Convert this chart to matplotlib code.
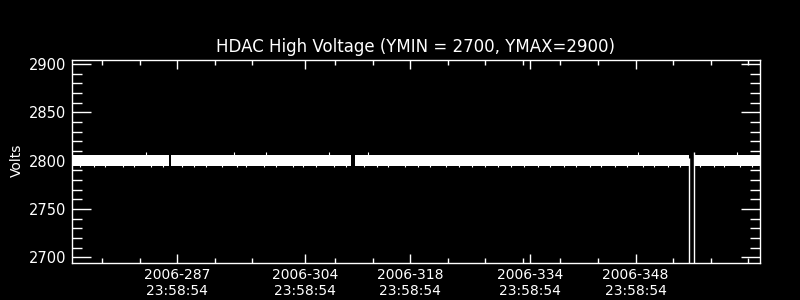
import numpy as np
import matplotlib
matplotlib.use('Agg')
import matplotlib.pyplot as plt

# day-of-year 2006 (fraction of day), ticks sit at 23:58:54
major_days = [287, 304, 318, 334, 348]
major_labels = ['2006-287\n23:58:54', '2006-304\n23:58:54', '2006-318\n23:58:54',
                '2006-334\n23:58:54', '2006-348\n23:58:54']
minor_days = [277, 282, 292, 297, 308, 313, 323, 328, 333, 338, 343, 353, 358, 363]

# voltage readings: continuous stretches of the ~2800 V band
seg_start = [273.0, 286.15, 310.6, 355.75]
seg_end = [285.95, 310.1, 355.13, 364.6]
band_low = [2795, 2795, 2795, 2795]
band_high = [2806, 2806, 2806, 2806]

# isolated high readings above the band
spike_days = [282.85, 294.55, 298.8, 307.2, 312.4, 348.3, 361.5]
spike_volts = [2809, 2809, 2809, 2809, 2809, 2809, 2809]

# isolated low readings below the band
dip_days = [274.1, 275.9, 277.4, 279.8, 281.2, 283.5, 285.1, 287.6, 289.3, 290.8,
            293.0, 294.9, 296.2, 298.5, 300.1, 302.4, 303.8, 305.5, 307.9, 309.4,
            311.8, 313.6, 315.0, 317.3, 319.1, 320.6, 322.8, 324.5, 326.2, 328.0,
            329.7, 331.4, 333.2, 335.0, 336.6, 338.5, 340.1, 341.9, 343.4, 345.2,
            346.9, 349.0, 350.5, 352.3, 353.9, 356.6, 358.4, 359.8, 361.9, 363.5]
dip_volts = [2793] * len(dip_days)

# the dropout in mid December
drop_days = [355.13, 355.72]
drop_low = [2600, 2600]
drop_high = [2803, 2809]

fig = plt.figure(figsize=(8, 3), dpi=100, facecolor='black')
ax = fig.add_axes([0.09, 0.122, 0.86, 0.678], facecolor='black')

for s, e, lo, hi in zip(seg_start, seg_end, band_low, band_high):
    ax.fill_between([s, e], [lo, lo], [hi, hi], color='white', linewidth=0)
ax.vlines(spike_days, 2800, spike_volts, color='white', linewidth=0.8)
ax.vlines(dip_days, dip_volts, 2800, color='white', linewidth=0.8)
ax.vlines(drop_days, drop_low, drop_high, color='white', linewidth=1.0)

ax.set_xlim(273.0, 364.55)
ax.set_ylim(2693.8, 2904.1)

ax.set_xticks(major_days)
ax.set_xticklabels(major_labels)
ax.set_xticks(minor_days, minor=True)
ax.set_yticks([2700, 2750, 2800, 2850, 2900])
ax.set_yticks(np.arange(2700, 2901, 10), minor=True)

for sp in ax.spines.values():
    sp.set_color('white')
    sp.set_linewidth(1.0)

ax.xaxis.set_tick_params(which='major', direction='in', length=6.5, width=1, color='white',
                         top=True, bottom=True, labelcolor='white', labelsize=10, pad=3)
ax.xaxis.set_tick_params(which='minor', direction='in', length=3.5, width=1, color='white',
                         top=True, bottom=True)
ax.yaxis.set_tick_params(which='major', direction='in', length=14, width=1, color='white',
                         left=True, right=True, labelcolor='white', labelsize=10.5, pad=4)
ax.yaxis.set_tick_params(which='minor', direction='in', length=7, width=1, color='white',
                         left=True, right=True)

ax.set_ylabel('Volts', color='white', fontsize=10)
ax.yaxis.set_label_coords(-0.07, 0.508)
ax.set_title('HDAC High Voltage (YMIN = 2700, YMAX=2900)', color='white', fontsize=12, pad=6)

fig.savefig('out.png', dpi=100, facecolor='black')
